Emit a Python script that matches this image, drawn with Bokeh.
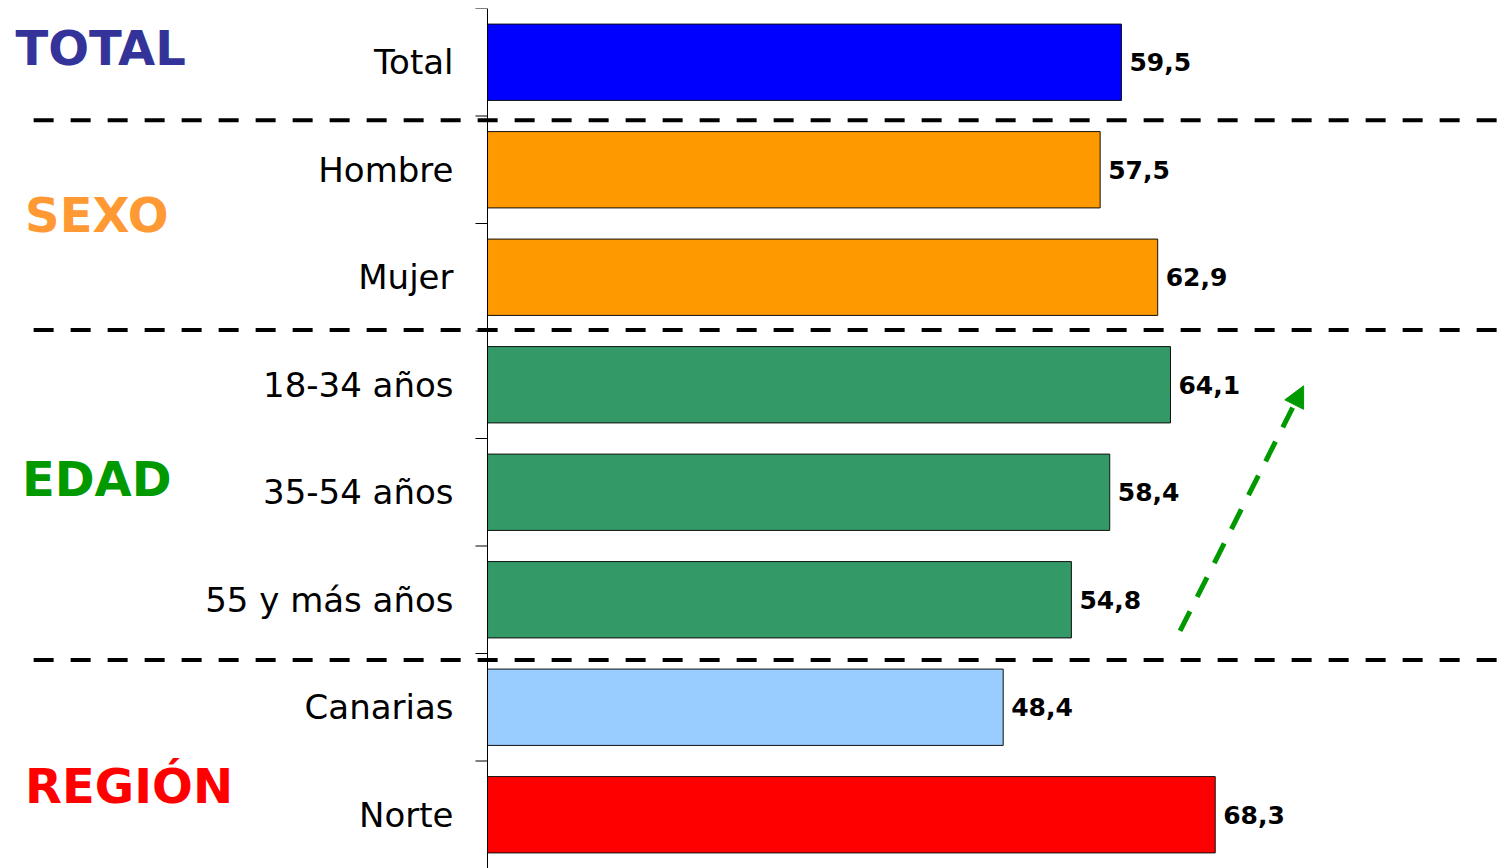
from bokeh.plotting import figure
from bokeh.models import FactorRange, Range1d, Arrow, NormalHead
from bokeh.core.properties import value
from bokeh.embed import file_html
from bokeh.resources import INLINE

# ---- data ----
categories = ["Total", "Hombre", "Mujer", "18-34 años", "35-54 años",
              "55 y más años", "Canarias", "Norte"]
values = [59.5, 57.5, 62.9, 64.1, 58.4, 54.8, 48.4, 68.3]
bar_colors = ["#0000FF", "#FF9900", "#FF9900", "#339966", "#339966",
              "#339966", "#99CCFF", "#FF0000"]
groups = ["TOTAL", "SEXO", "EDAD", "REGIÓN"]
group_sizes = [1, 2, 3, 2]
group_colors = ["#333399", "#FF9933", "#009900", "#FF0000"]

value_labels = [f"{v:.1f}".replace(".", ",") for v in values]

# ---- figure ----
W, H = 1509, 868
n = len(categories)
p = figure(width=W, height=H,
           y_range=FactorRange(factors=categories[::-1]),
           x_range=Range1d(-45.71, 95.92),
           output_backend="svg", toolbar_location=None,
           x_axis_location=None, min_border=0, min_border_top=8)
p.outline_line_color = None
p.xgrid.visible = False
p.ygrid.visible = False
p.background_fill_color = "white"

# bars
p.hbar(y=categories, right=values, left=0, height=0.71,
       fill_color=bar_colors, line_color="#111111", line_width=1)

# value labels
p.text(x=values, y=categories, text=value_labels, x_offset=8,
       text_font=value("DejaVu Sans"), text_font_style="bold",
       text_font_size="25px", text_color="#000000",
       text_baseline="middle", text_align="left")

# y axis fixed at x=0
ax = p.yaxis[0]
ax.fixed_location = 0
ax.major_label_text_font = "DejaVu Sans"
ax.major_label_text_font_size = "34px"
ax.major_label_text_color = "#000000"
ax.major_tick_line_color = None
ax.major_tick_out = 0
ax.major_tick_in = 0
ax.minor_tick_line_color = None
ax.major_label_standoff = 34
ax.axis_line_color = "#000000"
ax.axis_line_width = 1

# tick marks at category boundaries
bounds = list(range(n + 1))
p.segment(x0=[-1.13] * len(bounds), x1=[0] * len(bounds),
          y0=bounds, y1=bounds, line_color="#000000", line_width=1)

# group boundaries (from top) -> dashed separators
cum = []
acc = n
for s in group_sizes[:-1]:
    acc -= s
    cum.append(acc)
sep_adjust = [-0.04, 0.01, -0.06]
seps = [c + a for c, a in zip(cum, sep_adjust)]
p.segment(x0=[-42.6] * len(seps), x1=[100.0] * len(seps), y0=seps, y1=seps,
          line_color="#000000", line_width=4, line_dash="20 17")

# group labels
centers = []
top = n
for s in group_sizes:
    centers.append(top - s / 2)
    top -= s
label_adjust = [0.13, 0.08, 0.12, -0.23]
gy = [c + a for c, a in zip(centers, label_adjust)]
gx = [-44.3, -43.4, -43.7, -43.4]
p.text(x=gx, y=gy, text=groups, text_color=group_colors,
       text_font=value("DejaVu Sans"), text_font_style="bold",
       text_font_size="48px", text_baseline="middle", text_align="left")

# green trend arrow
p.add_layout(Arrow(end=NormalHead(size=21, fill_color="#009900",
                                  line_color="#009900"),
                   x_start=65.0, y_start=2.21, x_end=76.6, y_end=4.49,
                   line_color="#009900", line_width=5, line_dash="22 16"))

open("out.html", "w").write(file_html(p, INLINE))
